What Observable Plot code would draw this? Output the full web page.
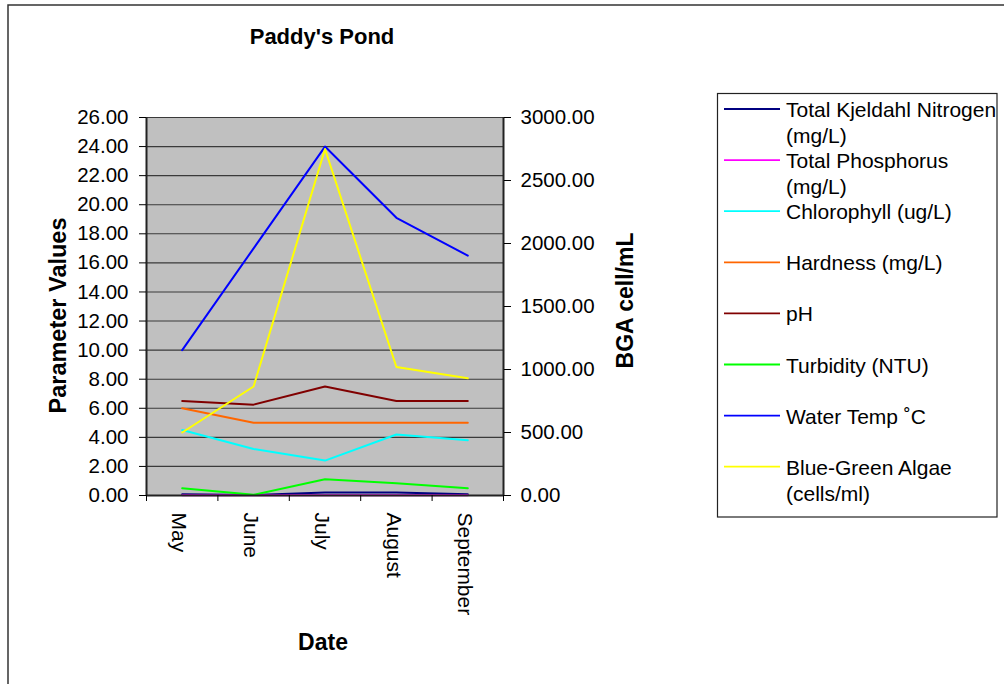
<!DOCTYPE html>
<html>
<head>
<meta charset="utf-8">
<script src="https://cdn.jsdelivr.net/npm/d3@7"></script>
<script src="https://cdn.jsdelivr.net/npm/@observablehq/plot@0.6"></script>
<style>
  html, body { margin: 0; padding: 0; background: #fff; }
  #wrap { position: relative; width: 1004px; height: 684px; overflow: hidden; font-family: "Liberation Sans", Arial, sans-serif; }
  #wrap svg { position: absolute; left: 0; top: 0; }
</style>
</head>
<body>
<div id="wrap"></div>
<script>
// ---- data ----
const title = "Paddy's Pond";
const months = ["May", "June", "July", "August", "September"];
const tkn = [0.08, 0.03, 0.2, 0.2, 0.08];
const phosphorus = [0.02, 0.02, 0.02, 0.02, 0.02];
const chlorophyll = [4.5, 3.2, 2.4, 4.2, 3.8];
const hardness = [6, 5, 5, 5, 5];
const ph = [6.5, 6.25, 7.5, 6.5, 6.5];
const turbidity = [0.5, 0.05, 1.12, 0.85, 0.5];
const waterTemp = [10, 17, 24, 19.1, 16.5];
const bga = [500, 865, 2750, 1020, 930];
const leftTicks = [0, 2, 4, 6, 8, 10, 12, 14, 16, 18, 20, 22, 24, 26];
const rightTicks = [0, 500, 1000, 1500, 2000, 2500, 3000];
const seriesNames = [
  "Total Kjeldahl Nitrogen (mg/L)",
  "Total Phosphorus (mg/L)",
  "Chlorophyll (ug/L)",
  "Hardness (mg/L)",
  "pH",
  "Turbidity (NTU)",
  "Water Temp \u02DAC",
  "Blue-Green Algae (cells/ml)"
];
const legendLines = [
  ["Total Kjeldahl Nitrogen", "(mg/L)"],
  ["Total Phosphorus", "(mg/L)"],
  ["Chlorophyll (ug/L)"],
  ["Hardness (mg/L)"],
  ["pH"],
  ["Turbidity (NTU)"],
  ["Water Temp \u02DAC"],
  ["Blue-Green Algae", "(cells/ml)"]
];
const seriesValues = [tkn, phosphorus, chlorophyll, hardness, ph, turbidity, waterTemp, bga];
const seriesOnRight = [false, false, false, false, false, false, false, true];

// ---- styles ----
const seriesColors = ["#000080", "#ff00ff", "#00ffff", "#ff6600", "#800000", "#00ff00", "#0000ff", "#ffff00"];
const leftMax = 26, rightMax = 3000;
const k = leftMax / rightMax; // right-axis values mapped onto the left scale

const rows = seriesNames.flatMap((name, si) =>
  seriesValues[si].map((v, i) => ({series: name, i, v: seriesOnRight[si] ? v * k : v}))
);

const font = "'Liberation Sans', Arial, sans-serif";

const chart = Plot.plot({
  width: 1004,
  height: 684,
  marginLeft: 146,
  marginRight: 501,
  marginTop: 117,
  marginBottom: 189,
  style: {fontFamily: font, fontSize: "20.5px", background: "transparent", color: "#000", overflow: "visible"},
  x: {domain: [-0.5, months.length - 0.5], axis: null},
  y: {domain: [0, leftMax], axis: null},
  color: {domain: seriesNames, range: seriesColors},
  marks: [
    Plot.frame({fill: "#c0c0c0", stroke: null}),
    Plot.gridY(leftTicks, {stroke: "#3a3a3a", strokeOpacity: 1, strokeWidth: 1.1}),
    Plot.line(rows, {x: "i", y: "v", z: "series", stroke: "series", strokeWidth: 2}),
    Plot.ruleX([-0.5], {stroke: "#222", strokeWidth: 2}),
    Plot.ruleX([months.length - 0.5], {stroke: "#222", strokeWidth: 2}),
    Plot.ruleY([0], {stroke: "#222", strokeWidth: 2}),
    Plot.axisY(leftTicks, {anchor: "left", tickFormat: d => d.toFixed(2), tickSize: 7, tickPadding: 11, label: null, fontSize: 20.5}),
    Plot.axisY(rightTicks.map(v => v * k), {anchor: "right", tickFormat: d => Math.round(d / k).toFixed(2), tickSize: 7, tickPadding: 10, label: null, fontSize: 20.5}),
    Plot.axisX(d3.range(-0.5, months.length, 1), {anchor: "bottom", tickFormat: () => "", tickSize: 6, label: null}),
    Plot.text(months, {x: (d, i) => i, frameAnchor: "bottom", text: d => d, rotate: 90, textAnchor: "start", lineAnchor: "middle", dy: 17, dx: -3, fontSize: 21}),
    Plot.text([title], {frameAnchor: "top", text: d => d, textAnchor: "middle", lineAnchor: "bottom", dy: -74, dx: -3, fontSize: 22, fontWeight: "bold", letterSpacing: "0.6px"}),
    Plot.text(["Date"], {frameAnchor: "bottom", text: d => d, textAnchor: "middle", lineAnchor: "bottom", dy: 154, dx: -2, fontSize: 23, fontWeight: "bold"}),
    Plot.text(["Parameter Values"], {frameAnchor: "left", text: d => d, textAnchor: "middle", rotate: -90, lineAnchor: "bottom", dx: -81, dy: 9, fontSize: 23.5, fontWeight: "bold"}),
    Plot.text(["BGA cell/mL"], {frameAnchor: "right", text: d => d, textAnchor: "middle", rotate: -90, lineAnchor: "bottom", dx: 129, dy: -6, fontSize: 23, fontWeight: "bold"})
  ]
});

const wrap = document.getElementById("wrap");
wrap.appendChild(chart);

// ---- overlay: chart border and legend ----
const ov = d3.select(wrap).append("svg")
  .attr("width", 1004).attr("height", 684)
  .style("font-family", font)
  .style("pointer-events", "none");

ov.append("rect").attr("x", 8).attr("y", 5).attr("width", 1200).attr("height", 900)
  .attr("fill", "none").attr("stroke", "#333").attr("stroke-width", 1.5);

ov.append("rect").attr("x", 717.5).attr("y", 93.5).attr("width", 279.5).attr("height", 423.5)
  .attr("fill", "#fff").attr("stroke", "#222").attr("stroke-width", 1.2);

const lg = ov.append("g");
legendLines.forEach((lines, i) => {
  const y = 109 + i * 51.1;
  lg.append("line").attr("x1", 724).attr("x2", 780).attr("y1", y).attr("y2", y)
    .attr("stroke", seriesColors[i]).attr("stroke-width", 1.8);
  const t = lg.append("text").attr("x", 786).attr("y", y + 8).attr("font-size", 21).attr("fill", "#000");
  lines.forEach((ln, j) => {
    t.append("tspan").attr("x", 786).attr("y", y + 8 + j * 26).text(ln);
  });
});
</script>
</body>
</html>
